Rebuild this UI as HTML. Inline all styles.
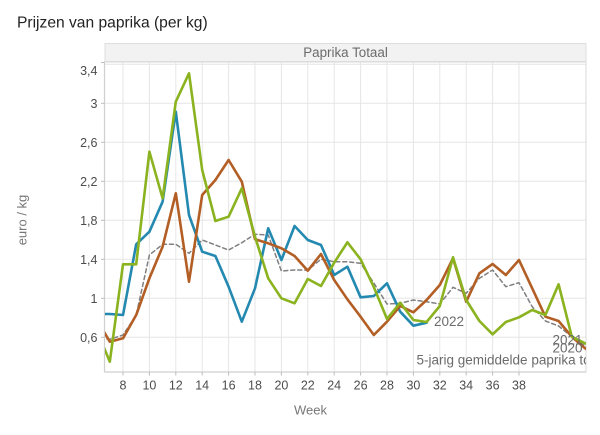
<!DOCTYPE html>
<html>
<head>
<meta charset="utf-8">
<style>
  html,body{margin:0;padding:0;background:#fff;}
  svg{display:block;}
  text{font-family:"Liberation Sans",Arial,sans-serif;}
</style>
</head>
<body>
<svg width="600" height="435" viewBox="0 0 600 435" xmlns="http://www.w3.org/2000/svg">
  <defs>
    <clipPath id="pc"><rect x="105" y="62" width="481" height="310"/></clipPath>
  </defs>
  <!-- title -->
  <text x="17" y="27.5" font-size="15.6" fill="#222">Prijzen van paprika (per kg)</text>

  <!-- strip -->
  <rect x="105" y="43.5" width="481" height="18" fill="#f2f2f2" stroke="#dedede" stroke-width="1"/>
  <text x="345.5" y="57" font-size="13.4" fill="#6b6b6b" text-anchor="middle">Paprika Totaal</text>

  <!-- grid -->
  <g stroke="#e6e6e6" stroke-width="1">
    <line x1="105" x2="586" y1="64.3" y2="64.3"/>
    <line x1="105" x2="586" y1="103.3" y2="103.3"/>
    <line x1="105" x2="586" y1="142.3" y2="142.3"/>
    <line x1="105" x2="586" y1="181.3" y2="181.3"/>
    <line x1="105" x2="586" y1="220.3" y2="220.3"/>
    <line x1="105" x2="586" y1="259.3" y2="259.3"/>
    <line x1="105" x2="586" y1="298.3" y2="298.3"/>
    <line x1="105" x2="586" y1="337.3" y2="337.3"/>
    <line y1="62" y2="372" x1="123" x2="123"/>
    <line y1="62" y2="372" x1="149.4" x2="149.4"/>
    <line y1="62" y2="372" x1="175.8" x2="175.8"/>
    <line y1="62" y2="372" x1="202.2" x2="202.2"/>
    <line y1="62" y2="372" x1="228.6" x2="228.6"/>
    <line y1="62" y2="372" x1="255" x2="255"/>
    <line y1="62" y2="372" x1="281.4" x2="281.4"/>
    <line y1="62" y2="372" x1="307.8" x2="307.8"/>
    <line y1="62" y2="372" x1="334.2" x2="334.2"/>
    <line y1="62" y2="372" x1="360.6" x2="360.6"/>
    <line y1="62" y2="372" x1="387" x2="387"/>
    <line y1="62" y2="372" x1="413.4" x2="413.4"/>
    <line y1="62" y2="372" x1="439.8" x2="439.8"/>
    <line y1="62" y2="372" x1="466.2" x2="466.2"/>
    <line y1="62" y2="372" x1="492.6" x2="492.6"/>
    <line y1="62" y2="372" x1="519" x2="519"/>
  </g>
  <!-- panel border -->
  <rect x="104.5" y="62" width="481.5" height="310" fill="none" stroke="#dadada" stroke-width="1"/>
  <line x1="104.5" y1="62" x2="104.5" y2="372" stroke="#cfcfcf" stroke-width="1.2"/>
  <line x1="104.5" y1="372" x2="586" y2="372" stroke="#cfcfcf" stroke-width="1.2"/>

  <!-- ticks -->
  <g stroke="#bdbdbd" stroke-width="1">
    <line x1="101" x2="104.5" y1="62.5" y2="62.5"/>
    <line x1="101" x2="104.5" y1="103.3" y2="103.3"/>
    <line x1="101" x2="104.5" y1="142.3" y2="142.3"/>
    <line x1="101" x2="104.5" y1="181.3" y2="181.3"/>
    <line x1="101" x2="104.5" y1="220.3" y2="220.3"/>
    <line x1="101" x2="104.5" y1="259.3" y2="259.3"/>
    <line x1="101" x2="104.5" y1="298.3" y2="298.3"/>
    <line x1="101" x2="104.5" y1="337.3" y2="337.3"/>
    <line y1="372" y2="375.5" x1="123" x2="123"/>
    <line y1="372" y2="375.5" x1="149.4" x2="149.4"/>
    <line y1="372" y2="375.5" x1="175.8" x2="175.8"/>
    <line y1="372" y2="375.5" x1="202.2" x2="202.2"/>
    <line y1="372" y2="375.5" x1="228.6" x2="228.6"/>
    <line y1="372" y2="375.5" x1="255" x2="255"/>
    <line y1="372" y2="375.5" x1="281.4" x2="281.4"/>
    <line y1="372" y2="375.5" x1="307.8" x2="307.8"/>
    <line y1="372" y2="375.5" x1="334.2" x2="334.2"/>
    <line y1="372" y2="375.5" x1="360.6" x2="360.6"/>
    <line y1="372" y2="375.5" x1="387" x2="387"/>
    <line y1="372" y2="375.5" x1="413.4" x2="413.4"/>
    <line y1="372" y2="375.5" x1="439.8" x2="439.8"/>
    <line y1="372" y2="375.5" x1="466.2" x2="466.2"/>
    <line y1="372" y2="375.5" x1="492.6" x2="492.6"/>
    <line y1="372" y2="375.5" x1="519" x2="519"/>
  </g>

  <!-- y tick labels -->
  <g font-size="12.5" fill="#4d4d4d" text-anchor="end">
    <text x="97.5" y="74.8">3,4</text>
    <text x="97.5" y="107.8">3</text>
    <text x="97.5" y="146.8">2,6</text>
    <text x="97.5" y="185.8">2,2</text>
    <text x="97.5" y="224.8">1,8</text>
    <text x="97.5" y="263.8">1,4</text>
    <text x="97.5" y="302.8">1</text>
    <text x="97.5" y="341.8">0,6</text>
  </g>
  <!-- x tick labels -->
  <g font-size="12.5" fill="#4d4d4d" text-anchor="middle">
    <text x="123" y="389.5">8</text>
    <text x="149.4" y="389.5">10</text>
    <text x="175.8" y="389.5">12</text>
    <text x="202.2" y="389.5">14</text>
    <text x="228.6" y="389.5">16</text>
    <text x="255" y="389.5">18</text>
    <text x="281.4" y="389.5">20</text>
    <text x="307.8" y="389.5">22</text>
    <text x="334.2" y="389.5">24</text>
    <text x="360.6" y="389.5">26</text>
    <text x="387" y="389.5">28</text>
    <text x="413.4" y="389.5">30</text>
    <text x="439.8" y="389.5">32</text>
    <text x="466.2" y="389.5">34</text>
    <text x="492.6" y="389.5">36</text>
    <text x="519" y="389.5">38</text>
  </g>

  <!-- axis titles -->
  <text x="294" y="414.5" font-size="13" fill="#777">Week</text>
  <text transform="translate(26.5,220) rotate(-90)" font-size="13" fill="#777" text-anchor="middle">euro / kg</text>

  <g clip-path="url(#pc)" fill="none" stroke-linejoin="round" stroke-linecap="round">
    <!-- dashed 5-year average -->
    <polyline stroke="#7f7f7f" stroke-width="1.5" stroke-dasharray="4,3"
      points="100,338 109.8,339.3 123,335 136.2,315 149.4,255 162.6,244.3 175.8,244.3 189,253.3 202.2,240 215.4,245 228.6,250 241.8,242.7 255,234.3 268.2,235 281.4,271 294.6,270 307.8,270 321,259.3 334.2,261.7 347.4,261.7 360.6,263.3 373.8,283 387,304 400.2,303.3 413.4,300 426.6,301.7 439.8,304 453,287.3 466.2,293.3 479.4,278.3 492.6,270 505.8,286.7 519,282.7 532.2,306.7 545.4,321 558.6,326 571.8,336.7 585,346 598,352"/>
    <!-- blue 2022 -->
    <polyline stroke="#2489b0" stroke-width="2.6"
      points="100,314 109.8,314 123,315 136.2,244.3 149.4,231.7 162.6,201.7 175.8,111.7 189,215 202.2,251.7 215.4,256 228.6,286.7 241.8,321.7 255,288.3 268.2,228.3 281.4,260 294.6,226 307.8,240 321,245 334.2,275 347.4,266.7 360.6,297.3 373.8,296 387,283.3 400.2,311.7 413.4,325.7 426.6,322.7"/>
    <!-- brown -->
    <polyline stroke="#b35e24" stroke-width="2.6"
      points="100,325 109.8,341.7 123,338.3 136.2,315 149.4,278.3 162.6,246.7 175.8,193.3 189,281.7 202.2,195 215.4,180 228.6,160 241.8,181.7 255,239.3 268.2,243.3 281.4,248.3 294.6,256 307.8,270.7 321,254 334.2,280 347.4,299.3 360.6,316.7 373.8,335 387,321.7 400.2,306 413.4,312.3 426.6,300 439.8,285 453,258.3 466.2,301.7 479.4,273.3 492.6,264 505.8,275 519,260 532.2,288.3 545.4,316.7 558.6,321 571.8,336.7 585,348.3 598,356"/>
    <!-- green -->
    <polyline stroke="#8ab31f" stroke-width="2.6"
      points="100,338 109.8,361.7 123,264.3 136.2,264.3 149.4,151.7 162.6,198.3 175.8,101.7 189,73.3 202.2,170 215.4,221 228.6,216.7 241.8,188.3 255,236.7 268.2,278.3 281.4,298.3 294.6,303.3 307.8,279 321,286 334.2,262.7 347.4,242.3 360.6,259.3 373.8,287 387,319 400.2,302.7 413.4,320 426.6,322 439.8,306 453,257.3 466.2,300 479.4,321 492.6,334.3 505.8,322 519,317.3 532.2,310 545.4,315 558.6,284.3 571.8,336.7 585,343.3 598,348"/>
    <!-- labels -->
    <g font-size="13.5" fill="#6b6b6b" stroke="none">
      <text x="434" y="326">2022</text>
      <text x="552.5" y="344.5">2021</text>
      <text x="552.5" y="352.5">2020</text>
      <text x="416.5" y="364.5">5-jarig gemiddelde paprika totaal</text>
    </g>
  </g>
</svg>
</body>
</html>
